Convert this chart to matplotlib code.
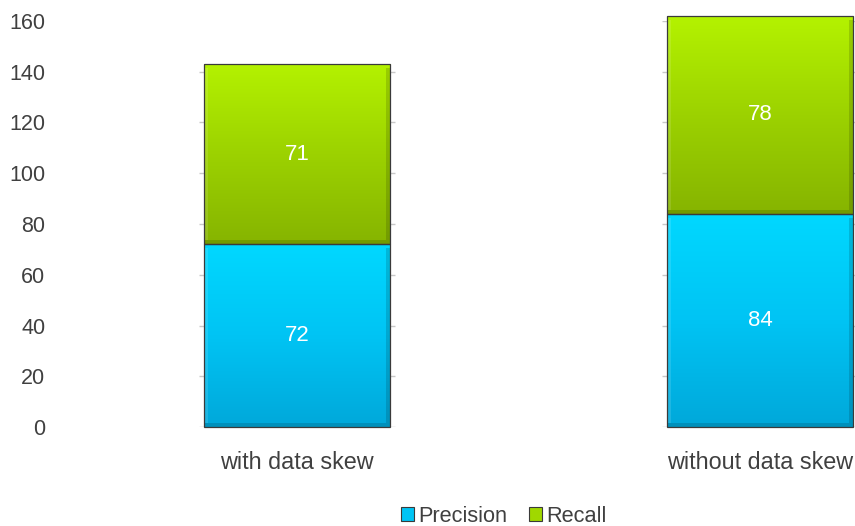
import numpy as np
import matplotlib.pyplot as plt
from matplotlib.colors import LinearSegmentedColormap
from matplotlib.patches import Patch

# --- Data ---
categories = ["with data skew", "without data skew"]
precision = [72, 84]
recall = [71, 78]
yticks = [0, 20, 40, 60, 80, 100, 120, 140, 160]

plt.rcParams["font.family"] = ["Liberation Sans", "DejaVu Sans"]

fig = plt.figure(figsize=(8.55, 5.26), dpi=100)
ax = fig.add_axes([0.0597, 0.1882, 0.9403, 0.7719])

x = np.arange(len(categories))
width = 0.402

cyan = LinearSegmentedColormap.from_list("cyan", ["#00a8da", "#00c4f4", "#00d8ff"])
green = LinearSegmentedColormap.from_list("green", ["#86b400", "#9cd200", "#b4f200"])

totals = [p + r for p, r in zip(precision, recall)]

# faint grid stubs beside the bars (only up to the bar top)
for xi, tot in zip(x, totals):
    ys = [t for t in yticks if t <= tot]
    ax.hlines(ys, xi - width / 2 - 0.011, xi + width / 2 + 0.011,
              color="#c8c8c8", lw=1, zorder=0)

bars_p = ax.bar(x, precision, width, color="#00c8f8", lw=0, zorder=2, clip_on=False)
bars_r = ax.bar(x, recall, width, bottom=precision, color="#a0d800",
                lw=0, zorder=2, clip_on=False)

bx = 0.008   # bevel width in x data units
by = 1.5     # bevel height in y data units
grad = np.linspace(0, 1, 256).reshape(-1, 1)
for bars, cmap in [(bars_p, cyan), (bars_r, green)]:
    for b in bars:
        x0, y0, w, h = b.get_x(), b.get_y(), b.get_width(), b.get_height()
        im = ax.imshow(grad, cmap=cmap, aspect="auto", origin="lower",
                       extent=[x0, x0 + w, y0, y0 + h], zorder=2.5)
        im.set_clip_path(b)
        # bevel: darker bottom / right, lighter left
        ax.add_patch(plt.Rectangle((x0, y0), w, by, fc="black", alpha=0.14,
                                   lw=0, zorder=2.6, clip_on=False))
        ax.add_patch(plt.Rectangle((x0 + w - bx, y0 + by), bx, h - 2 * by, fc="black",
                                   alpha=0.14, lw=0, zorder=2.6, clip_on=False))
        ax.add_patch(plt.Rectangle((x0, y0 + by), bx, h - 2 * by, fc="white",
                                   alpha=0.12, lw=0, zorder=2.6, clip_on=False))
        ax.add_patch(plt.Rectangle((x0, y0), w, h, fill=False,
                                   ec="#3a3a3a", lw=0.9, zorder=3, clip_on=False))
        ax.text(x0 + w / 2, y0 + h / 2, f"{h:.0f}", color="white",
                ha="center", va="center", fontsize=16, zorder=4)

ax.set_xlim(-0.531, 1.2052)
ax.set_ylim(0, 160)
ax.set_yticks(yticks)
ax.set_xticks(x)
ax.set_xticklabels(categories)
ax.tick_params(axis="y", length=0, labelsize=15.5, labelcolor="#404040", pad=4)
ax.tick_params(axis="x", length=0, labelsize=16.8, labelcolor="#404040", pad=17)
for s in ax.spines.values():
    s.set_visible(False)

handles = [Patch(facecolor="#00c4f4", edgecolor="#3a3a3a", lw=0.8, label="Precision"),
           Patch(facecolor="#a0d800", edgecolor="#3a3a3a", lw=0.8, label="Recall")]
fig.legend(handles=handles, loc="center", bbox_to_anchor=(0.589, 0.019), ncol=2,
           frameon=False, fontsize=15.7, handlelength=0.6, handleheight=0.6,
           handletextpad=0.2, columnspacing=1.0, labelcolor="#404040",
           borderpad=0.2)

fig.savefig("out.png", dpi=100)
